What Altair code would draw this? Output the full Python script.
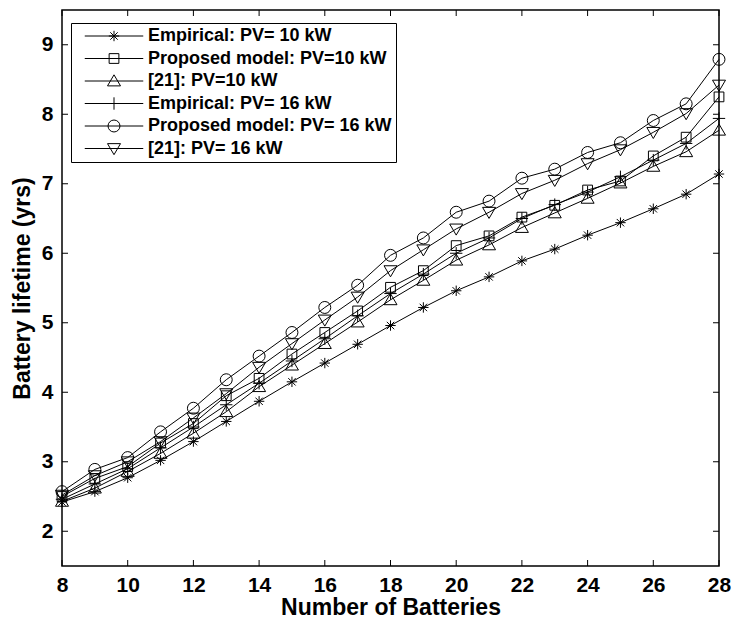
import altair as alt
import pandas as pd

batteries = list(range(8, 29))
emp10 = [2.42, 2.57, 2.77, 3.02, 3.29, 3.58, 3.87, 4.15, 4.42, 4.69, 4.96, 5.22, 5.46, 5.66, 5.89, 6.06, 6.26, 6.44, 6.64, 6.85, 7.14]
prop10 = [2.50, 2.76, 2.93, 3.27, 3.55, 3.95, 4.20, 4.55, 4.86, 5.17, 5.51, 5.75, 6.11, 6.25, 6.52, 6.69, 6.91, 7.04, 7.40, 7.67, 8.25]
ref10 = [2.43, 2.62, 2.86, 3.12, 3.41, 3.72, 4.08, 4.39, 4.70, 5.01, 5.33, 5.61, 5.90, 6.12, 6.37, 6.58, 6.79, 7.01, 7.25, 7.46, 7.77]
emp16 = [2.46, 2.68, 2.90, 3.20, 3.50, 3.82, 4.13, 4.45, 4.77, 5.10, 5.42, 5.70, 6.00, 6.22, 6.50, 6.70, 6.88, 7.10, 7.34, 7.58, 7.94]
prop16 = [2.57, 2.89, 3.06, 3.43, 3.77, 4.18, 4.52, 4.86, 5.22, 5.54, 5.97, 6.22, 6.59, 6.75, 7.08, 7.21, 7.45, 7.59, 7.91, 8.15, 8.79]
ref16 = [2.52, 2.80, 3.00, 3.29, 3.63, 3.98, 4.36, 4.70, 5.04, 5.37, 5.75, 6.05, 6.35, 6.59, 6.86, 7.05, 7.29, 7.49, 7.74, 8.01, 8.42]

series_names = [
    "Empirical: PV= 10 kW",
    "Proposed model: PV=10 kW",
    "[21]: PV=10 kW",
    "Empirical: PV= 16 kW",
    "Proposed model: PV= 16 kW",
    "[21]: PV= 16 kW",
]
series_values = [emp10, prop10, ref10, emp16, prop16, ref16]

x_ticks = list(range(8, 29, 2))
y_ticks = list(range(2, 10))

# marker shapes (MATLAB-like: *, square, ^, +, o, v)
marker_paths = [
    "M-0.8,0H0.8M0,-0.8V0.8M-0.57,-0.57L0.57,0.57M-0.57,0.57L0.57,-0.57",
    "M-0.75,-0.75H0.75V0.75H-0.75Z",
    "M0,-0.95L1,0.75H-1Z",
    "M-0.95,0H0.95M0,-0.95V0.95",
    "M0.92,0A0.92,0.92,0,1,1,-0.92,0A0.92,0.92,0,1,1,0.92,0Z",
    "M-1,-0.75H1L0,0.95Z",
]
legend_paths = ["M-4.5,0H4.5" + p for p in marker_paths]

rows = []
for name, vals in zip(series_names, series_values):
    for b, v in zip(batteries, vals):
        rows.append({"n": b, "life": v, "series": name, "series_leg": name})
df = pd.DataFrame(rows)

W, H = 657, 556
FONT = "Liberation Sans"

xscale = alt.Scale(domain=[8, 28], nice=False, zero=False)
yscale = alt.Scale(domain=[1.5, 9.5], nice=False, zero=False)
xaxis = alt.Axis(values=x_ticks, title="Number of Batteries", grid=False, ticks=False, domain=False,
                 labelFont=FONT, labelFontSize=21, labelFontWeight="bold", labelColor="black",
                 labelPadding=8, titleFont=FONT, titleFontSize=23, titleFontWeight="bold",
                 titleColor="black", titlePadding=1, labelFlush=False)
yaxis = alt.Axis(values=y_ticks, title="Battery lifetime (yrs)", grid=False, ticks=False, domain=False,
                 labelFont=FONT, labelFontSize=21, labelFontWeight="bold", labelColor="black",
                 labelPadding=9, titleFont=FONT, titleFontSize=23, titleFontWeight="bold",
                 titleColor="black", titlePadding=7, labelFlush=False)


def X(field):
    return alt.X(field, type="quantitative", scale=xscale, axis=xaxis)


def Y(field):
    return alt.Y(field, type="quantitative", scale=yscale, axis=yaxis)


base = alt.Chart(df)

lines = base.mark_line(color="black", strokeWidth=1).encode(
    x=X("n"), y=Y("life"), detail="series:N", order="n:Q"
)

points = base.mark_point(filled=False, color="black", size=169, strokeWidth=1, opacity=1).encode(
    x=X("n"), y=Y("life"),
    shape=alt.Shape("series:N", sort=series_names,
                    scale=alt.Scale(domain=series_names, range=marker_paths), legend=None),
)

legend_layer = base.mark_point(filled=False, color="black", size=169, strokeWidth=1, opacity=0).encode(
    x=X("n"), y=Y("life"),
    shape=alt.Shape("series_leg:N", sort=series_names,
                    scale=alt.Scale(domain=series_names, range=legend_paths),
                    legend=alt.Legend(orient="none", legendX=9, legendY=13, title=None,
                                      symbolSize=169, symbolOffset=30, labelOffset=25,
                                      symbolStrokeColor="black", symbolStrokeWidth=1,
                                      symbolFillColor="transparent", symbolOpacity=1,
                                      labelFont=FONT, labelFontSize=18, labelFontWeight="bold",
                                      labelColor="black", labelLimit=400,
                                      fillColor="white", strokeColor="black", padding=4,
                                      rowPadding=4.5)),
)

xt = pd.DataFrame({"v": x_ticks})
yt = pd.DataFrame({"v": y_ticks})
tick_bottom = alt.Chart(xt).mark_rule(color="black", strokeWidth=1).encode(
    x=X("v"), y=alt.value(H), y2=alt.value(H - 6))
tick_top = alt.Chart(xt).mark_rule(color="black", strokeWidth=1).encode(
    x=X("v"), y=alt.value(0), y2=alt.value(6))
tick_left = alt.Chart(yt).mark_rule(color="black", strokeWidth=1).encode(
    y=Y("v"), x=alt.value(0), x2=alt.value(6))
tick_right = alt.Chart(yt).mark_rule(color="black", strokeWidth=1).encode(
    y=Y("v"), x=alt.value(W), x2=alt.value(W - 6))

chart = alt.layer(
    tick_bottom, tick_top, tick_left, tick_right, lines, points, legend_layer
).resolve_scale(shape="independent").properties(
    width=W, height=H,
    padding={"left": 62, "top": 10, "right": 15, "bottom": 57},
    autosize=alt.AutoSizeParams(type="none"),
    background="white",
).configure_view(stroke="black", strokeWidth=1.5)

chart.save("out.html", embed_options={"renderer": "svg", "actions": False})
